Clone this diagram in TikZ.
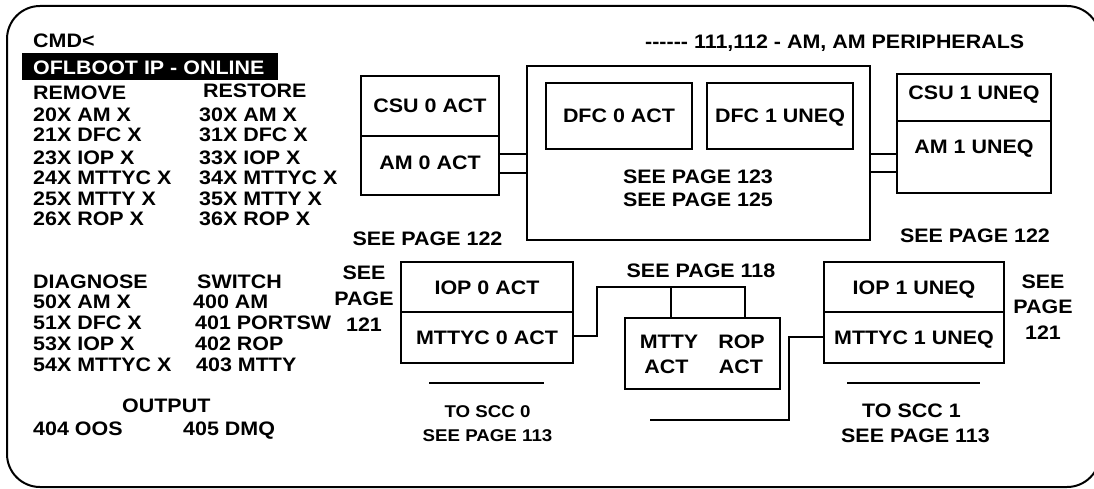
\documentclass[tikz,border=0pt]{standalone}
\usepackage{fontspec}
\setmainfont{Liberation Sans}[FakeStretch=1.1, Ligatures=TeXOff]
\begin{document}
\begin{tikzpicture}[x=1pt,y=-1pt,
  every node/.style={font=\bfseries\fontsize{19.5}{22}\selectfont, inner sep=0pt},
  small/.style={font=\bfseries\fontsize{17}{20}\selectfont},
  lt/.style={anchor=base west},
  ct/.style={anchor=base},
  unit/.style={draw, line width=2.4pt, text height=14pt, text depth=0pt},
  lift/.style={text depth=#1},
  wire/.style={line width=2.4pt}]
\useasboundingbox (0,0) rectangle (1094,489);

% outer panel
\draw[line width=2pt, rounded corners=33pt] (7,6) rectangle (1100,487);

% command menu
\node[lt] (cmd) at (33,48) {CMD<};
\node[fill=black, minimum width=256pt, minimum height=27pt, anchor=north west] (mode) at (22,53) {};
\node[lt, text=white] (modetxt) at (33,75) {OFLBOOT IP - ONLINE};

\node[lt] (rem) at (33,100) {REMOVE};
\node[lt] (res) at (203,98) {RESTORE};
\node[lt] at (33,122) {20X AM X};      \node[lt] at (199,122) {30X AM X};
\node[lt] at (33,142) {21X DFC X};     \node[lt] at (199,142) {31X DFC X};
\node[lt] at (33,165) {23X IOP X};     \node[lt] at (199,165) {33X IOP X};
\node[lt] at (33,185) {24X MTTYC X};   \node[lt] at (199,185) {34X MTTYC X};
\node[lt] at (33,205) {25X MTTY X};    \node[lt] at (199,205) {35X MTTY X};
\node[lt] at (33,225) {26X ROP X};     \node[lt] at (199,225) {36X ROP X};

\node[lt] (diag) at (33,288) {DIAGNOSE};
\node[lt] (sw) at (197,288) {SWITCH};
\node[lt] at (33,308) {50X AM X};      \node[lt] at (193,308) {400 AM};
\node[lt] at (33,329) {51X DFC X};     \node[lt] at (195,329) {401 PORTSW};
\node[lt] at (33,350) {53X IOP X};     \node[lt] at (195,350) {402 ROP};
\node[lt] at (33,371) {54X MTTYC X};   \node[lt] at (196,371) {403 MTTY};
\node[lt] (out) at (122,412) {OUTPUT};
\node[lt] at (33,435) {404 OOS};       \node[lt] at (183,435) {405 DMQ};

% header
\node[lt] (title) at (645,49) {------ 111,112 - AM, AM PERIPHERALS};

% AM 0 side
\node[unit, minimum width=138pt, minimum height=60pt] (csu0) at (430,106) {CSU 0 ACT};
\node[unit, lift=5pt, minimum width=138pt, minimum height=59pt] (am0) at (430,165.5) {AM 0 ACT};

% DFC unit
\node[unit, minimum width=343pt, minimum height=174pt] (dfc) at (698.5,153) {};
\node[unit, minimum width=146pt, minimum height=66pt] (dfc0) at (619,116) {DFC 0 ACT};
\node[unit, minimum width=146pt, minimum height=66pt] (dfc1) at (780,116) {DFC 1 UNEQ};
\node[ct] (p123) at (698,183) {SEE PAGE 123};
\node[ct] (p125) at (698,207) {SEE PAGE 125};

% AM 1 side
\node[unit, lift=9pt, minimum width=154pt, minimum height=47pt] (csu1) at (974,97.5) {CSU 1 UNEQ};
\node[unit, lift=20pt, minimum width=154pt, minimum height=72pt] (am1) at (974,157) {AM 1 UNEQ};

% AM to DFC links
\draw[wire] (am0.east |- 0,154) -- (dfc.west |- 0,154);
\draw[wire] (am0.east |- 0,173) -- (dfc.west |- 0,173);
\draw[wire] (dfc.east |- 0,154) -- (am1.west |- 0,154);
\draw[wire] (dfc.east |- 0,172) -- (am1.west |- 0,172);

\node[ct] (p122a) at (427.5,245) {SEE PAGE 122};
\node[ct] (p122b) at (975,242) {SEE PAGE 122};

% IOP 0 side
\node[unit, minimum width=172pt, minimum height=50pt] (iop0) at (487,287) {IOP 0 ACT};
\node[unit, minimum width=172pt, minimum height=51pt] (mttyc0) at (487,337.5) {MTTYC 0 ACT};
\node[ct] at (364,279) {SEE};
\node[ct] at (364,305) {PAGE};
\node[ct] at (364,331) {121};

% IOP 1 side
\node[unit, minimum width=180pt, minimum height=50pt] (iop1) at (914,287) {IOP 1 UNEQ};
\node[unit, minimum width=180pt, minimum height=51pt] (mttyc1) at (914,337.5) {MTTYC 1 UNEQ};
\node[ct] at (1043,288) {SEE};
\node[ct] at (1043,313) {PAGE};
\node[ct] at (1043,339) {121};

% terminal and printer
\node[unit, minimum width=155pt, minimum height=71pt] (tty) at (702.5,353.5) {};
\node[ct] (mtty) at (669,348) {MTTY};
\node[ct] at (666.5,373) {ACT};
\node[ct] (rop) at (741.5,348) {ROP};
\node[ct] at (741,373) {ACT};
\node[ct] (p118) at (701,277) {SEE PAGE 118};

\coordinate (busL) at (597,287);
\coordinate (busM) at (671,287);
\coordinate (busR) at (745,287);
\draw[wire] (mttyc0.east |- 0,336) -| (busL) -- (busR) -- (busR |- tty.north);
\draw[wire] (busM) -- (busM |- tty.north);

\coordinate (tail) at (650,420);
\draw[wire] (mttyc1.west |- 0,337) -| (789,420) -- (tail);

% SCC links
\coordinate (scc0a) at (429,383);
\coordinate (scc0b) at (544,383);
\draw[wire] (scc0a) -- (scc0b);
\node[ct, small] (scc0) at (487.5,417) {TO SCC 0};
\node[ct, small] at (487.5,441) {SEE PAGE 113};

\coordinate (scc1a) at (847,383);
\coordinate (scc1b) at (980,383);
\draw[wire] (scc1a) -- (scc1b);
\node[ct] (scc1) at (911.5,417) {TO SCC 1};
\node[ct] at (915.5,442) {SEE PAGE 113};
\end{tikzpicture}
\end{document}
